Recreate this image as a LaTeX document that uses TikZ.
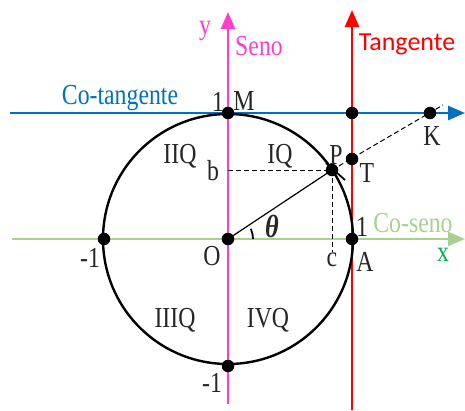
\documentclass[tikz,border=0pt]{standalone}
\usepackage{fontspec}
\setmainfont[FakeStretch=0.82]{Liberation Serif}
\newfontfamily\tgfont{Carlito}
\usetikzlibrary{arrows.meta}
\definecolor{mag}{HTML}{FF3FCC}
\definecolor{tred}{HTML}{FF0000}
\definecolor{tblue}{HTML}{0070C0}
\definecolor{lgreen}{HTML}{A9D18E}
\definecolor{xgreen}{HTML}{00B050}
\begin{document}
\begin{tikzpicture}[x=1pt,y=-1pt,
  axis/.style={line width=2.6pt,-{Triangle[length=17pt,width=14pt]}},
  circ/.style={line width=2.4pt},
  dot/.style={circle,fill=black,inner sep=0pt,minimum size=12.5pt},
  dsh/.style={line width=1pt,dash pattern=on 5pt off 3pt},
  lbl/.style={inner sep=0pt,font=\fontsize{29}{32}\selectfont,text=black!85},
  tg/.style={inner sep=0pt,font=\tgfont\fontsize{26}{30}\selectfont}]
\useasboundingbox (0,0) rectangle (465,410);
% axis end coordinates
\coordinate (gL) at (12,239);  \coordinate (gR) at (465,239);
\coordinate (bL) at (10,113);  \coordinate (bR) at (465,113);
\coordinate (mB) at (228,404); \coordinate (mT) at (228,12);
\coordinate (rB) at (352,410); \coordinate (rT) at (352,10);
\coordinate (bb) at (228,170); \coordinate (cc) at (332,252);
\coordinate (Kend) at (443,105);
\coordinate (tk1) at (326,163); \coordinate (tk2) at (345,180);
% axes
\draw[axis,lgreen] (gL) -- (gR);
\draw[axis,tblue] (bL) -- (bR);
\draw[axis,mag] (mB) -- (mT);
\draw[axis,tred] (rB) -- (rT);
% circle
\coordinate (O0) at (228,239);
\draw[circ] (O0) circle[radius=125pt];
% dots
\node[dot] (O) at (228,239) {};
\node[dot] (M) at (228,113) {};
\node[dot] (R1) at (352,113) {};
\node[dot] (K) at (430,113) {};
\node[dot] (T) at (352,159) {};
\node[dot] (P) at (332,170) {};
\node[dot] (A) at (352,239) {};
\node[dot] (L) at (104,239) {};
\node[dot] (D) at (228,366) {};
% lines
\draw[line width=1.2pt] (O.center) -- (P.center);
\draw[dsh] (bb) -- (P.center);
\draw[dsh] (P.center) -- (cc);
\draw[dsh] (P.center) -- (Kend);
\draw[line width=1.8pt] (tk1) -- (tk2);
\draw[line width=1.8pt] (O.center) ++(25pt,0pt) arc[start angle=0,end angle=24,radius=25pt];
% labels
\node[lbl,text=mag] (ly) at (205,31) {y};
\node[lbl,text=mag] (lseno) at (259,46) {Seno};
\node[tg,text=tred] (ltg) at (407,44) {Tangente};
\node[lbl,text=tblue] (lct) at (120,98) {Co-tangente};
\node[lbl] (l1M) at (218,102) {1};
\node[lbl] (lM) at (244,101) {M};
\node[lbl] (lK) at (432,136) {K};
\node[lbl] (lIIQ) at (180,156) {IIQ};
\node[lbl] (lIQ) at (280,156) {IQ};
\node[lbl] (lb) at (213,171) {b};
\node[lbl] (lP) at (336,155) {P};
\node[lbl] (lT) at (367,173) {T};
\node[lbl] (l1A) at (362,227) {1};
\node[lbl,text=lgreen] (lcos) at (413,223) {Co-seno};
\node[lbl,text=xgreen] (lx) at (443,255) {x};
\node[lbl] (lA) at (365,262) {A};
\node[lbl] (lc) at (332,260) {c};
\node[lbl] (lO) at (212,256) {O};
\node[lbl] (lm1a) at (90,258) {-1};
\node[lbl] (lm1b) at (212,383) {-1};
\node[lbl] (lIIIQ) at (175,320) {IIIQ};
\node[lbl] (lIVQ) at (268,320) {IVQ};
\node[lbl,font=\fontsize{32}{34}\selectfont\bfseries\itshape] (lth) at (272,226) {θ};
\end{tikzpicture}
\end{document}
